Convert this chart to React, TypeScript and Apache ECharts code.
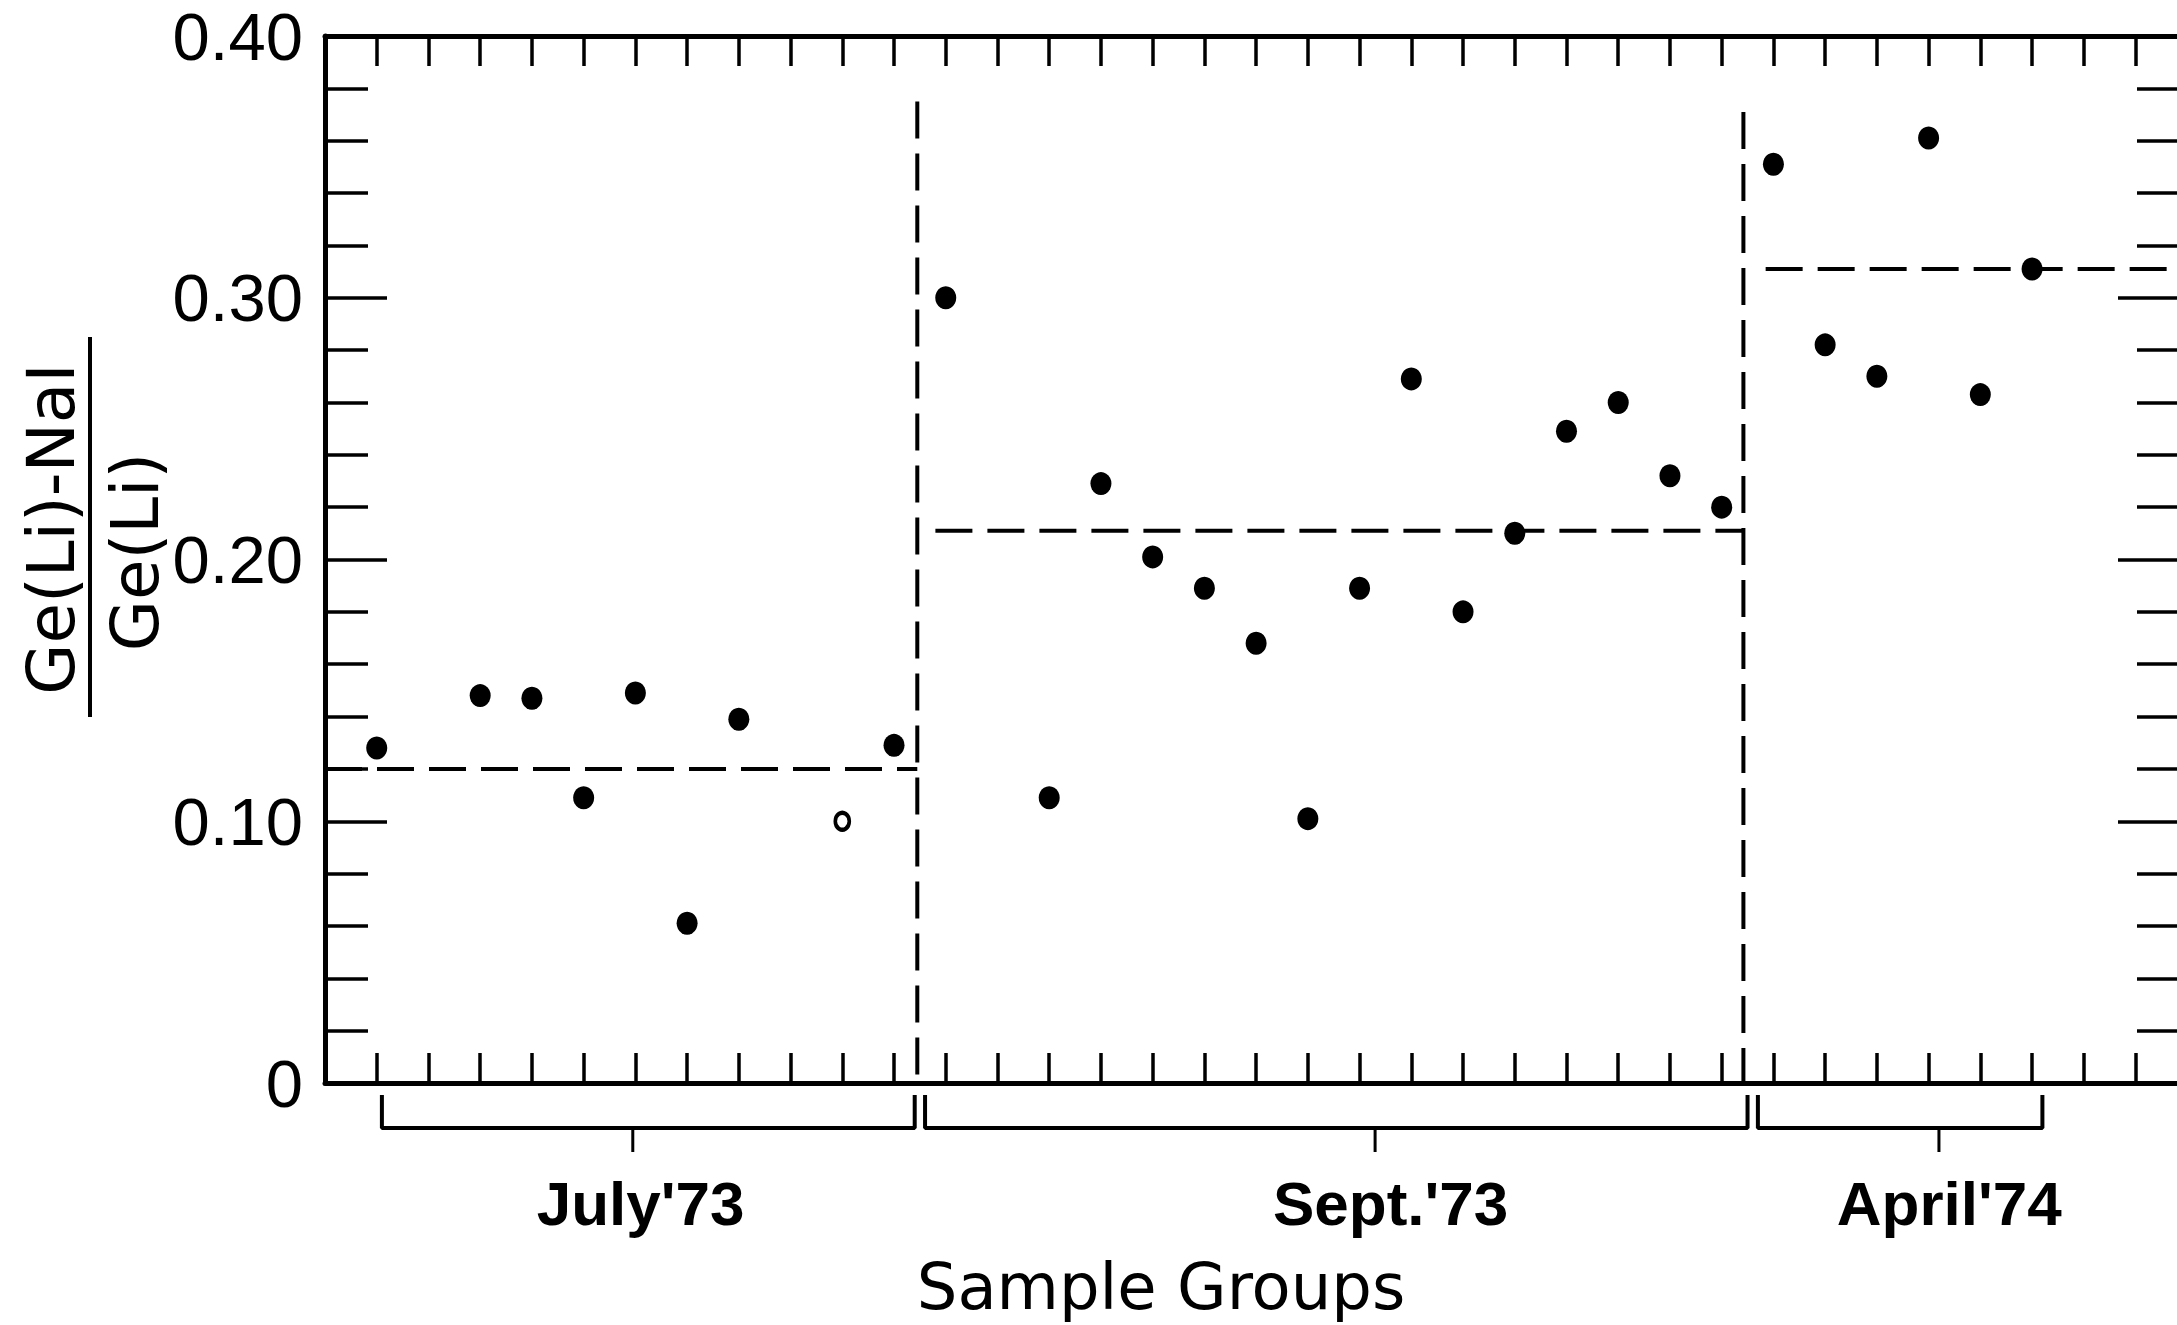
import React, { useEffect, useRef } from "react";
import * as echarts from "echarts";

// ---- data ----
const groupNames = ["July'73", "Sept.'73", "April'74"];

const julyIdx = [0, 2, 3, 4, 5, 6, 7, 9, 10];
const julyVal = [0.128, 0.148, 0.147, 0.109, 0.149, 0.061, 0.139, 0.1, 0.129];

const septIdx = [11, 13, 14, 15, 16, 17, 18, 19, 20, 21, 22, 23, 24, 25, 26];
const septVal = [0.3, 0.109, 0.229, 0.201, 0.189, 0.168, 0.101, 0.189, 0.269, 0.18, 0.21, 0.249, 0.26, 0.232, 0.22];

const aprilIdx = [27, 28, 29, 30, 31, 32];
const aprilVal = [0.351, 0.282, 0.27, 0.361, 0.263, 0.311];

const groupMeans = [0.12, 0.211, 0.311];
const meanFrom = [-1, 10.8, 26.85];
const meanTo = [10.45, 26.42, 34.86];

const separatorAt = [10.45, 26.42];
const separatorTop = [0.375, 0.371];

const bracketFrom = [0.1, 10.6, 26.7];
const bracketTo = [10.4, 26.5, 32.2];
const bracketMid = [4.95, 19.3, 30.2];
const groupLabelAt = [5.1, 19.6, 30.4];

const faintSample = 9; // sample drawn as a faint (open) dot

const xMin = -1;
const xMax = 34.86;
const yMin = 0;
const yMax = 0.4;

// ---- styling constants ----
const BLACK = "#000";
const AXIS_W = 5;
const TICK_W = 3.5;
const DASH = [37, 15];
const BR_TOP = 12;
const BR_BOT = 45;
const BR_MID = 69;
const LABEL_OFF = 120;

export default function App() {
  const ref = useRef<HTMLDivElement>(null);

  useEffect(() => {
    if (!ref.current) return;
    const chart = echarts.init(ref.current, undefined, { renderer: "svg" });

    const groups = [
      { idx: julyIdx, val: julyVal },
      { idx: septIdx, val: septVal },
      { idx: aprilIdx, val: aprilVal },
    ];

    const pointSeries = groups.map((g, gi) => ({
      type: "scatter",
      name: groupNames[gi],
      xAxisIndex: 0,
      yAxisIndex: 0,
      symbol: "circle",
      symbolSize: [21, 23],
      itemStyle: { color: BLACK, opacity: 1 },
      data: g.idx.map((x, i) =>
        x === faintSample
          ? {
              value: [x, g.val[i]],
              symbolSize: [14, 17],
              itemStyle: { color: "#fff", borderColor: BLACK, borderWidth: 4, opacity: 1 },
            }
          : [x, g.val[i]]
      ),
      z: 5,
    }));

    const meanSeries = groupMeans.map((m, i) => ({
      type: "line",
      xAxisIndex: 0,
      yAxisIndex: 0,
      symbol: "none",
      lineStyle: { color: BLACK, width: 4, type: DASH },
      data: [
        [meanFrom[i], m],
        [meanTo[i], m],
      ],
      z: 3,
    }));

    const sepSeries = separatorAt.map((x, i) => ({
      type: "line",
      xAxisIndex: 0,
      yAxisIndex: 0,
      symbol: "none",
      lineStyle: { color: BLACK, width: 4, type: DASH },
      data: [
        [x, separatorTop[i]],
        [x, 0],
      ],
      z: 3,
    }));

    const bracketSeries = groupNames.map((_, i) => ({
      type: "line",
      xAxisIndex: 2,
      yAxisIndex: 2,
      symbol: "none",
      lineStyle: { color: BLACK, width: 4 },
      data: [
        [bracketFrom[i], BR_TOP],
        [bracketFrom[i], BR_BOT],
        [bracketTo[i], BR_BOT],
        [bracketTo[i], BR_TOP],
      ],
    }));

    const midSeries = groupNames.map((_, i) => ({
      type: "line",
      xAxisIndex: 2,
      yAxisIndex: 2,
      symbol: "none",
      lineStyle: { color: BLACK, width: 3 },
      data: [
        [bracketMid[i], BR_BOT],
        [bracketMid[i], BR_MID],
      ],
    }));

    const labelSeries = {
      type: "scatter",
      xAxisIndex: 2,
      yAxisIndex: 2,
      symbolSize: 1,
      itemStyle: { color: "rgba(0,0,0,0)", opacity: 1 },
      label: {
        show: true,
        position: "inside",
        formatter: (p: any) => groupNames[p.dataIndex],
        color: BLACK,
        opacity: 1,
        fontFamily: "Liberation Sans",
        fontWeight: "bold",
        fontSize: 62,
      },
      data: groupLabelAt.map((x) => [x, LABEL_OFF]),
    };

    const xBase = {
      type: "value",
      gridIndex: 0,
      min: xMin,
      max: xMax,
      interval: 1,
      axisLine: { show: true, onZero: false, lineStyle: { color: BLACK, width: AXIS_W } },
      axisTick: { show: true, inside: true, length: 30, lineStyle: { color: BLACK, width: TICK_W } },
      axisLabel: { show: false },
      splitLine: { show: false },
    };

    const yBase = {
      type: "value",
      gridIndex: 0,
      min: yMin,
      max: yMax,
      interval: 0.1,
      axisLine: { show: true, onZero: false, lineStyle: { color: BLACK, width: AXIS_W } },
      axisTick: { show: true, inside: true, length: 62, lineStyle: { color: BLACK, width: TICK_W } },
      minorTick: { show: true, splitNumber: 5, length: 43, lineStyle: { color: BLACK, width: TICK_W } },
      splitLine: { show: false },
      minorSplitLine: { show: false },
    };

    chart.setOption({
      animation: false,
      backgroundColor: "#fff",
      grid: [
        { left: 325, right: 20, top: 36, bottom: 242 },
        { left: 325, right: 20, top: 1083, height: 242 },
      ],
      xAxis: [
        { ...xBase, position: "bottom" },
        { ...xBase, position: "top" },
        { type: "value", gridIndex: 1, min: xMin, max: xMax, show: false },
      ],
      yAxis: [
        {
          ...yBase,
          position: "left",
          axisLabel: {
            show: true,
            margin: 22,
            color: BLACK,
            fontFamily: "Liberation Sans",
            fontSize: 67,
            formatter: (v: number) => (v === 0 ? "0" : v.toFixed(2)),
          },
        },
        { ...yBase, position: "right", axisLabel: { show: false } },
        { type: "value", gridIndex: 1, min: 0, max: 242, inverse: true, show: false },
      ],
      graphic: [
        {
          type: "text",
          x: 1161,
          y: 1287,
          style: {
            text: "Sample Groups",
            fill: BLACK,
            fontFamily: "DejaVu Sans",
            fontSize: 64,
            align: "center",
            verticalAlign: "middle",
            textAlign: "center",
            textVerticalAlign: "middle",
          },
        },
        {
          type: "text",
          x: 51,
          y: 529,
          rotation: Math.PI / 2,
          style: {
            text: "Ge(Li)-NaI",
            fill: BLACK,
            fontFamily: "DejaVu Sans",
            fontSize: 66,
            align: "center",
            verticalAlign: "middle",
            textAlign: "center",
            textVerticalAlign: "middle",
          },
        },
        {
          type: "line",
          shape: { x1: 90, y1: 337, x2: 90, y2: 717 },
          style: { stroke: BLACK, lineWidth: 4 },
        },
        {
          type: "text",
          x: 135,
          y: 552,
          rotation: Math.PI / 2,
          style: {
            text: "Ge(Li)",
            fill: BLACK,
            fontFamily: "DejaVu Sans",
            fontSize: 66,
            align: "center",
            verticalAlign: "middle",
            textAlign: "center",
            textVerticalAlign: "middle",
          },
        },
      ],
      series: [...sepSeries, ...meanSeries, ...bracketSeries, ...midSeries, ...pointSeries, labelSeries],
    });

    return () => chart.dispose();
  }, []);

  return (
    <div
      style={{
        position: "fixed",
        left: 0,
        top: 0,
        width: 2177,
        height: 1325,
        overflow: "hidden",
        background: "#fff",
      }}
    >
      <div ref={ref} style={{ width: 2200, height: 1325 }} />
    </div>
  );
}
